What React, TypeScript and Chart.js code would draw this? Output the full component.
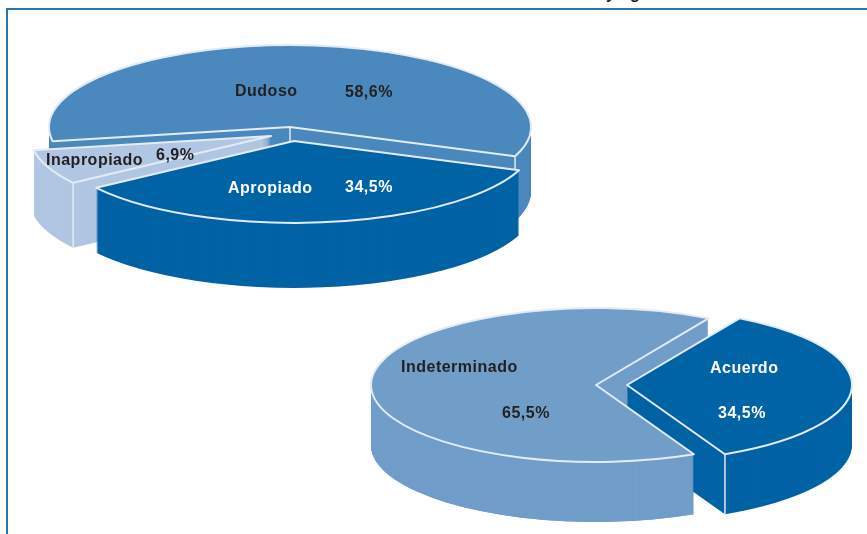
import React, { useEffect, useRef } from "react";
import { Chart, registerables } from "chart.js";

Chart.register(...registerables);

// Appropriateness of indication
const indicationCategories = ["Dudoso", "Apropiado", "Inapropiado"];
const indicationValues = [58.6, 34.5, 6.9];
const indicationColors = ["#4a88bd", "#0063a5", "#b0c6e2"];

// Agreement between reviewers
const agreementCategories = ["Acuerdo", "Indeterminado"];
const agreementValues = [34.5, 65.5];
const agreementColors = ["#0063a5", "#719dc9"];

const EDGE = "#e3ebf4";
const INK = "#231f20";
const FONT = "bold 16px 'Liberation Sans', Arial, sans-serif";

type Label = { text: string; x: number; y: number; color: string };
type Step = ["wall" | "front" | "top", number];

type PieSetup = {
  categories: string[];
  values: number[];
  colors: string[];
  rotation: number;
  radius: number;
  cx: number;
  cy: number;
  squash: number;
  depth: number;
  shifts: [number, number][];
  steps: Step[];
  corners: ("apex" | "start" | "end")[][];
  labels: Label[];
};

const percent = (v: number) => v.toFixed(1).replace(".", ",") + "%";

function pie3d(setup: PieSetup) {
  const { cx, cy, squash, depth, shifts, steps, corners, labels } = setup;

  const place = (ctx: CanvasRenderingContext2D, arc: any, i: number, drop: number) => {
    ctx.translate(cx + shifts[i][0], cy + shifts[i][1] + drop);
    ctx.scale(1, squash);
    ctx.translate(-arc.x, -arc.y);
  };

  const drawArcAt = (ctx: CanvasRenderingContext2D, arc: any, i: number, drop: number) => {
    ctx.save();
    place(ctx, arc, i, drop);
    arc.draw(ctx);
    ctx.restore();
  };

  const drawWall = (ctx: CanvasRenderingContext2D, arc: any, i: number) => {
    for (let d = depth; d >= 1; d--) drawArcAt(ctx, arc, i, d);
  };

  // Keeps only the part of a slice's wall that lies under its leading cut edge,
  // so a neighbouring wall can show through behind that edge.
  const clipBelowStartEdge = (ctx: CanvasRenderingContext2D, arc: any, i: number) => {
    const ax = cx + shifts[i][0];
    const ay = cy + shifts[i][1];
    const ex = ax + Math.cos(arc.startAngle) * arc.outerRadius;
    const ey = ay + Math.sin(arc.startAngle) * arc.outerRadius * squash;
    ctx.beginPath();
    ctx.moveTo(ax, ay);
    ctx.lineTo(ex, ey);
    ctx.lineTo(ex, ey + depth + 10);
    ctx.lineTo(ax - arc.outerRadius - 5, ey + depth + 10);
    ctx.lineTo(ax - arc.outerRadius - 5, ay);
    ctx.closePath();
    ctx.clip();
  };

  const strokeOutline = (ctx: CanvasRenderingContext2D, arc: any, i: number) => {
    // The path is built squashed but stroked unsquashed, so the edge keeps an even width.
    ctx.save();
    place(ctx, arc, i, 0);
    ctx.beginPath();
    ctx.moveTo(arc.x, arc.y);
    ctx.arc(arc.x, arc.y, arc.outerRadius, arc.startAngle, arc.endAngle);
    ctx.closePath();
    ctx.restore();
    ctx.strokeStyle = EDGE;
    ctx.lineWidth = 2;
    ctx.lineJoin = "round";
    ctx.stroke();
  };

  const strokeCorners = (ctx: CanvasRenderingContext2D, arc: any, i: number) => {
    for (const corner of corners[i]) {
      const angle = corner === "start" ? arc.startAngle : arc.endAngle;
      const reach = corner === "apex" ? 0 : arc.outerRadius;
      const x = cx + shifts[i][0] + Math.cos(angle) * reach;
      const y = cy + shifts[i][1] + Math.sin(angle) * reach * squash;
      ctx.beginPath();
      ctx.moveTo(x, y);
      ctx.lineTo(x, y + depth);
      ctx.strokeStyle = EDGE;
      ctx.lineWidth = 1.5;
      ctx.stroke();
    }
  };

  return {
    id: "pie3d",
    beforeDatasetsDraw(chart: any) {
      const ctx: CanvasRenderingContext2D = chart.ctx;
      const arcs = chart.getDatasetMeta(0).data;
      for (const [kind, i] of steps) {
        if (kind === "wall") {
          drawWall(ctx, arcs[i], i);
          strokeCorners(ctx, arcs[i], i);
        } else if (kind === "front") {
          ctx.save();
          clipBelowStartEdge(ctx, arcs[i], i);
          drawWall(ctx, arcs[i], i);
          ctx.restore();
        } else {
          drawArcAt(ctx, arcs[i], i, 0);
          strokeOutline(ctx, arcs[i], i);
        }
      }
      return false;
    },
    afterDraw(chart: any) {
      const ctx: CanvasRenderingContext2D = chart.ctx;
      ctx.save();
      ctx.font = FONT;
      (ctx as any).letterSpacing = "0.5px";
      ctx.textBaseline = "alphabetic";
      for (const l of labels) {
        ctx.fillStyle = l.color;
        ctx.fillText(l.text, l.x, l.y);
      }
      ctx.restore();
    },
  };
}

const indicationSetup: PieSetup = {
  categories: indicationCategories,
  values: indicationValues,
  colors: indicationColors,
  rotation: 260,
  radius: 241,
  cx: 290,
  cy: 127,
  squash: 0.34,
  depth: 65,
  shifts: [[0, 0], [4, 14], [-19, 9]],
  steps: [["wall", 0], ["top", 0], ["wall", 2], ["top", 2], ["wall", 1], ["top", 1]],
  corners: [["apex", "end"], [], ["start"]],
  labels: [
    { text: indicationCategories[0], x: 235, y: 96, color: INK },
    { text: percent(indicationValues[0]), x: 345, y: 97, color: INK },
    { text: indicationCategories[1], x: 228, y: 193, color: "#ffffff" },
    { text: percent(indicationValues[1]), x: 345, y: 192, color: "#ffffff" },
    { text: indicationCategories[2], x: 46, y: 165, color: INK },
    { text: percent(indicationValues[2]), x: 156, y: 160, color: INK },
  ],
};

const agreementSetup: PieSetup = {
  categories: agreementCategories,
  values: agreementValues,
  colors: agreementColors,
  rotation: 30,
  radius: 225,
  cx: 596,
  cy: 385,
  squash: 0.342,
  depth: 60,
  shifts: [[31, 0], [0, 0]],
  steps: [["wall", 1], ["wall", 0], ["front", 1], ["top", 1], ["top", 0]],
  corners: [["end"], []],
  labels: [
    { text: agreementCategories[1], x: 401, y: 372, color: INK },
    { text: percent(agreementValues[1]), x: 502, y: 418, color: INK },
    { text: agreementCategories[0], x: 710, y: 373, color: "#ffffff" },
    { text: percent(agreementValues[0]), x: 718, y: 418, color: "#ffffff" },
  ],
};

function makeChart(canvas: HTMLCanvasElement, setup: PieSetup) {
  const width = canvas.width;
  const height = canvas.height;
  return new Chart(canvas, {
    type: "pie",
    data: {
      labels: setup.categories,
      datasets: [
        {
          data: setup.values,
          backgroundColor: setup.colors,
          borderWidth: 0,
        },
      ],
    },
    options: {
      responsive: false,
      animation: false,
      rotation: setup.rotation,
      layout: {
        padding: {
          left: 0,
          top: 0,
          right: width - setup.radius * 2,
          bottom: height - setup.radius * 2,
        },
      },
      plugins: {
        legend: { display: false },
        tooltip: { enabled: false },
      },
    },
    plugins: [pie3d(setup)],
  } as any);
}

const layer: React.CSSProperties = { position: "absolute", left: 0, top: 0 };
const headingGlyph = "bold 16px 'Liberation Sans', Arial, sans-serif";

export default function App() {
  const topRef = useRef<HTMLCanvasElement>(null);
  const bottomRef = useRef<HTMLCanvasElement>(null);

  useEffect(() => {
    const charts = [
      makeChart(topRef.current!, indicationSetup),
      makeChart(bottomRef.current!, agreementSetup),
    ];
    return () => charts.forEach((c) => c.destroy());
  }, []);

  return (
    <div style={{ position: "fixed", left: 0, top: 0, width: 867, height: 534, overflow: "hidden", background: "#fff" }}>
      <div style={{ position: "absolute", left: 6, top: 8, right: -4, bottom: -4, borderLeft: "2px solid #2a75ab", borderTop: "2px solid #2a75ab" }} />
      <div style={{ position: "absolute", left: 606, top: -15, font: headingGlyph, color: INK, lineHeight: "18px" }}>y</div>
      <div style={{ position: "absolute", left: 630, top: -15, font: headingGlyph, color: INK, lineHeight: "18px" }}>g</div>
      <canvas ref={topRef} width={867} height={534} style={layer} />
      <canvas ref={bottomRef} width={867} height={534} style={layer} />
    </div>
  );
}
